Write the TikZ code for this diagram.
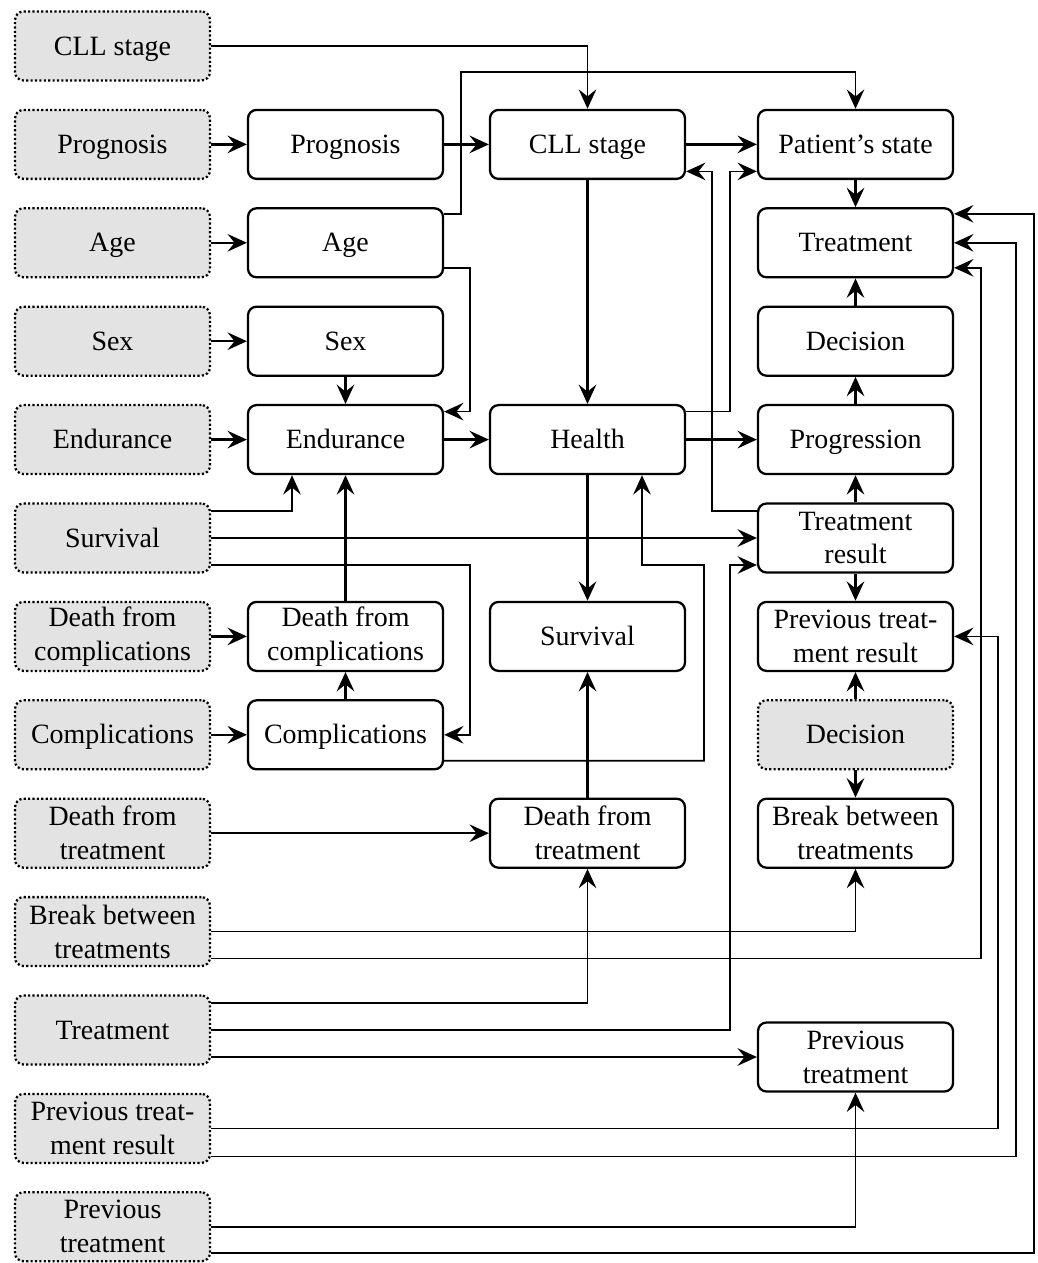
\documentclass[tikz,border=0pt]{standalone}
\usepackage{fontspec}
\setmainfont{Liberation Serif}
\usetikzlibrary{arrows.meta,calc}
\begin{document}
\begin{tikzpicture}[x=0.02cm,y=-0.02cm,
  box/.style={draw, line width=1.3pt, rounded corners=0.17cm, minimum width=3.9cm, minimum height=1.38cm, align=center, inner sep=0pt, font=\fontsize{15.9}{19.3}\selectfont},
  obs/.style={box, fill=black!11, dash pattern=on 1.2pt off 1.3pt},
  one/.style={text height=10.4pt, text depth=0pt},
  tip/.style={-{Stealth[length=11pt,width=10pt,inset=4pt]}},
  arr/.style={tip, line width=1.4pt},
  route/.style={tip, line width=0.95pt}]
\useasboundingbox (0,0) rectangle (1037,1263);
% left column (observed)
\node[obs,one] (lcll)   at (112.5,46)   {CLL stage};
\node[obs,one] (lprog)  at (112.5,144.4) {Prognosis};
\node[obs,one] (lage)   at (112.5,242.8) {Age};
\node[obs,one] (lsex)   at (112.5,341.2) {Sex};
\node[obs,one] (lend)   at (112.5,439.6) {Endurance};
\node[obs,one] (lsurv)  at (112.5,538)   {Survival};
\node[obs] (ldc)    at (112.5,636.4) {Death from\\complications};
\node[obs,one] (lcomp)  at (112.5,734.8) {Complications};
\node[obs] (ldt)    at (112.5,833.2) {Death from\\treatment};
\node[obs] (lbreak) at (112.5,931.6) {Break between\\treatments};
\node[obs,one] (ltreat) at (112.5,1030)  {Treatment};
\node[obs] (lptr)   at (112.5,1128.4) {Previous treat-\\ment result};
\node[obs] (lpt)    at (112.5,1226.8) {Previous\\treatment};
% column 2
\node[box,one] (prog) at (345.5,144.4) {Prognosis};
\node[box,one] (age)  at (345.5,242.8) {Age};
\node[box,one] (sex)  at (345.5,341.2) {Sex};
\node[box,one] (endu) at (345.5,439.6) {Endurance};
\node[box] (dc)   at (345.5,636.4) {Death from\\complications};
\node[box,one] (comp) at (345.5,734.8) {Complications};
% column 3
\node[box,one] (cll)    at (587.5,144.4) {CLL stage};
\node[box,one] (health) at (587.5,439.6) {Health};
\node[box,one] (surv)   at (587.5,636.4) {Survival};
\node[box] (dt)     at (587.5,833.2) {Death from\\treatment};
% column 4
\node[box,one] (pstate) at (855.5,144.4) {Patient’s state};
\node[box,one] (treat)  at (855.5,242.8) {Treatment};
\node[box,one] (dec)    at (855.5,341.2) {Decision};
\node[box,one] (progr)  at (855.5,439.6) {Progression};
\node[box] (tres)   at (855.5,538)   {Treatment\\result};
\node[box] (ptr)    at (855.5,636.4) {Previous treat-\\ment result};
\node[obs,one] (ldec)   at (855.5,734.8) {Decision};
\node[box] (brk)    at (855.5,833.2) {Break between\\treatments};
\node[box] (pt)     at (855.5,1057)  {Previous\\treatment};
% straight arrows
\draw[arr] (lprog) -- (prog);
\draw[arr] (prog) -- (cll);
\draw[arr] (cll) -- (pstate);
\draw[arr] (lage) -- (age);
\draw[arr] (lsex) -- (sex);
\draw[arr] (lend) -- (endu);
\draw[arr] (endu) -- (health);
\draw[arr] (health) -- (progr);
\draw[arr] (sex) -- (endu);
\draw[arr] (ldc) -- (dc);
\draw[arr] (lcomp) -- (comp);
\draw[arr] (comp) -- (dc);
\draw[arr] (dc) -- (endu);
\draw[arr] (pstate) -- (treat);
\draw[arr] (dec) -- (treat);
\draw[arr] (progr) -- (dec);
\draw[arr] (tres) -- (progr);
\draw[arr] (tres) -- (ptr);
\draw[arr] (ldec) -- (ptr);
\draw[arr] (ldec) -- (brk);
\draw[arr] (dt) -- (surv);
\draw[arr] (ldt) -- (dt);
\draw[arr] (health) -- (surv);
\draw[arr] (cll) -- (health);
\draw[arr] (lsurv) -- (tres);
\draw[arr] (ltreat.east |- pt.west) -- (pt.west);
% routed arrows
\draw[route] (lcll.east) -| (cll.north);
\draw[route] ([yshift=.57cm]age.east) -| (461,72) -| (pstate.north);
\draw[route] ([yshift=-.5cm]age.east) -| (470,300) |- ([yshift=.56cm]endu.east);
\draw[route] ([yshift=.54cm]lsurv.east) -| ([xshift=-1.07cm]endu.south);
\draw[route] ([yshift=-.54cm]lsurv.east) -| (470,700) |- (comp.east);
\draw[route] ([yshift=-.52cm]comp.east) -| (704,600) |- (642,565) -- ([xshift=1.09cm]health.south);
\draw[route] ([yshift=.54cm]ltreat.east) -| (dt.south);
\draw[route] (ltreat.east) -| (730,800) |- ([yshift=-.54cm]tres.west);
\draw[route] (lbreak.east) -| (brk.south);
\draw[route] ([yshift=-.54cm]lbreak.east) -| (981,600) |- ([yshift=-.5cm]treat.east);
\draw[route] (lptr.east) -| (998,900) |- (ptr.east);
\draw[route] ([yshift=-.56cm]lptr.east) -| (1016,900) |- (treat.east);
\draw[route] (lpt.east) -| (pt.south);
\draw[route] ([yshift=-.52cm]lpt.east) -| (1034,900) |- ([yshift=.58cm]treat.east);
\draw[route] ([yshift=.56cm]health.east) -| (730,300) |- ([yshift=-.54cm]pstate.west);
\draw[route] ([yshift=.54cm]tres.west) -| (712,300) |- ([yshift=-.54cm]cll.east);
\end{tikzpicture}
\end{document}
